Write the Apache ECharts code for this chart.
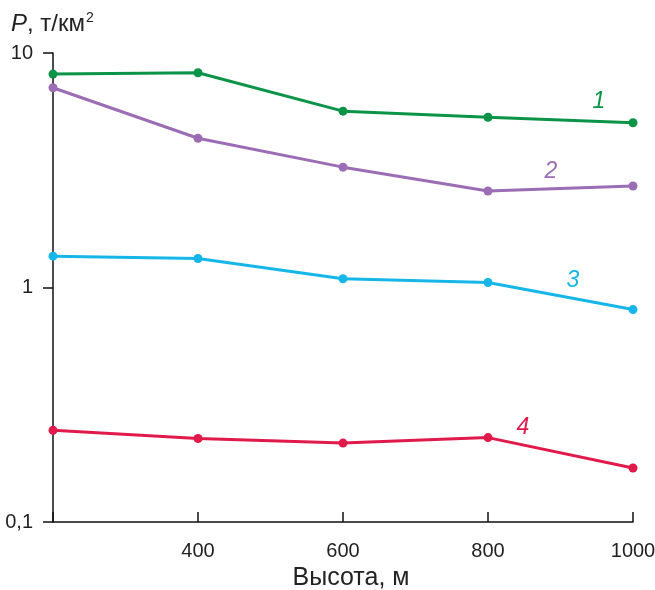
<!DOCTYPE html>
<html>
<head>
<meta charset="utf-8">
<script src="https://cdn.jsdelivr.net/npm/echarts@6/dist/echarts.min.js"></script>
<style>html,body{margin:0;padding:0;background:#fff}#c{width:655px;height:590px}</style>
</head>
<body>
<div id="c"></div>
<script>
const heights = [200, 400, 600, 800, 1000];
const series1 = [8.13, 8.24, 5.65, 5.32, 5.04];
const series2 = [7.11, 4.33, 3.26, 2.58, 2.71];
const series3 = [1.36, 1.33, 1.09, 1.05, 0.805];
const series4 = [0.246, 0.227, 0.217, 0.229, 0.170];
const seriesNames = ['1', '2', '3', '4'];
const yTickLabels = {0.1: '0,1', 1: '1', 10: '10'};
const xTickLabels = ['', '400', '600', '800', '1000'];

const colors = ['#0b9447', '#9b6db4', '#17b6e9', '#e01a4b'];
const labelSpec = [
  {idx: 4, offset: [-34, -21]},
  {idx: 4, offset: [-82, -14]},
  {idx: 4, offset: [-60, -29]},
  {idx: 3, offset: [35, -10]}
];
const allSeries = [series1, series2, series3, series4];

const chart = echarts.init(document.getElementById('c'));
const font = '"Liberation Sans", Arial, sans-serif';

chart.setOption({
  animation: false,
  grid: {left: 53, right: 22, top: 53, bottom: 68, containLabel: false, outerBoundsMode: 'none'},
  xAxis: {
    type: 'value', min: 200, max: 1000, interval: 200,
    name: 'Высота, м', nameLocation: 'middle', nameGap: 42,
    nameTextStyle: {fontFamily: font, fontSize: 25, color: '#222', padding: [0, 0, 0, 16]},
    axisLine: {show: true, onZero: false, lineStyle: {color: '#111', width: 1.5}},
    axisTick: {show: true, inside: true, length: 10, lineStyle: {color: '#111', width: 1.5}},
    axisLabel: {fontFamily: font, fontSize: 20, color: '#222', margin: 19,
      formatter: v => xTickLabels[heights.indexOf(v)] || ''},
    splitLine: {show: false}
  },
  yAxis: {
    type: 'log', logBase: 10, min: 0.1, max: 10,
    axisLine: {show: true, lineStyle: {color: '#111', width: 1.5}},
    axisTick: {show: true, inside: false, length: 10, lineStyle: {color: '#111', width: 1.5}},
    minorTick: {show: false},
    axisLabel: {fontFamily: font, fontSize: 20, color: '#222', margin: 20,
      formatter: v => yTickLabels[Math.round(v * 10) / 10] || ''},
    splitLine: {show: false}
  },
  graphic: [{
    type: 'text', left: 11, top: 11,
    style: {
      text: '{i|P}{n|, т/км}{s|2}',
      rich: {
        i: {fontFamily: font, fontSize: 24, fontStyle: 'italic', fill: '#222'},
        n: {fontFamily: font, fontSize: 24, fill: '#222'},
        s: {fontFamily: font, fontSize: 14, fill: '#222', verticalAlign: 'top', padding: [0, 0, 13, 1]}
      }
    }
  }],
  series: allSeries.map((arr, k) => ({
    type: 'line',
    name: seriesNames[k],
    data: heights.map((h, i) => {
      const item = {value: [h, arr[i]]};
      if (i === labelSpec[k].idx) {
        item.label = {show: true, position: 'inside', offset: labelSpec[k].offset,
          formatter: seriesNames[k], fontFamily: font, fontSize: 23, fontStyle: 'italic', color: colors[k]};
      }
      return item;
    }),
    symbol: 'circle', symbolSize: 9,
    lineStyle: {width: 3, color: colors[k]},
    itemStyle: {color: colors[k]},
    z: 3
  }))
});
</script>
</body>
</html>
